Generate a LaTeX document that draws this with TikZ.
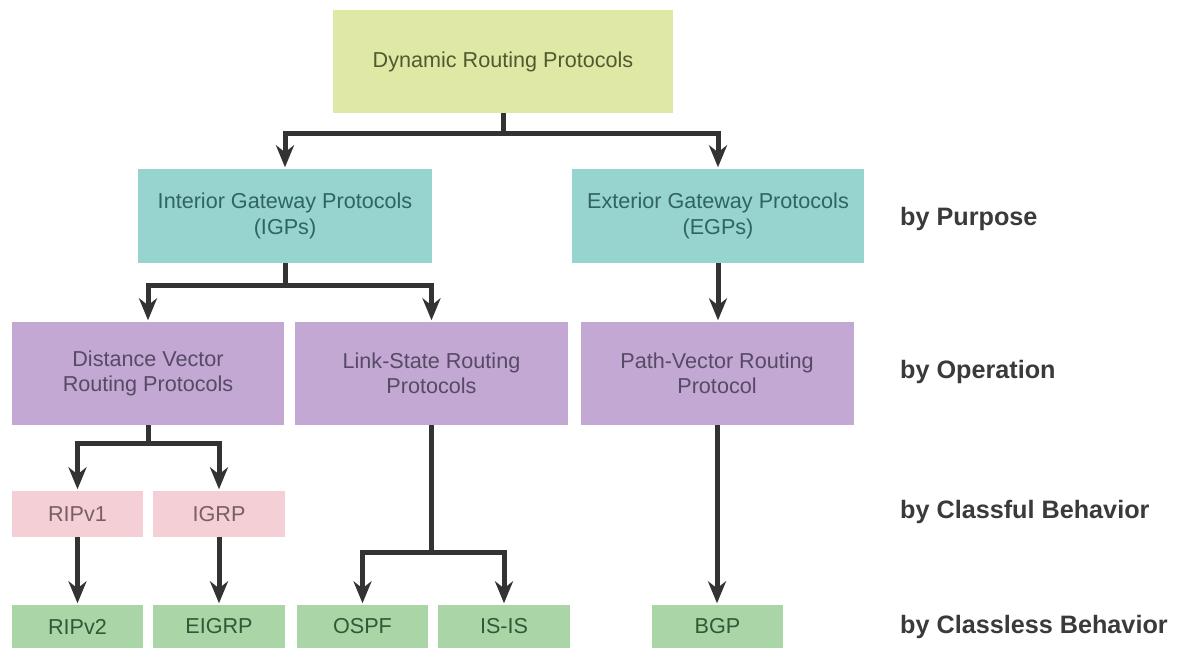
\documentclass[tikz,border=0pt]{standalone}
\usepackage{fontspec}
\setmainfont{Liberation Sans}
\usetikzlibrary{arrows.meta}
\definecolor{topfill}{HTML}{E0E8A6}
\definecolor{toptext}{HTML}{4F5B2F}
\definecolor{tealfill}{HTML}{97D3CF}
\definecolor{tealtext}{HTML}{2F6462}
\definecolor{purpfill}{HTML}{C2A8D3}
\definecolor{purptext}{HTML}{574A65}
\definecolor{pinkfill}{HTML}{F4D0D6}
\definecolor{pinktext}{HTML}{7A5E63}
\definecolor{greenfill}{HTML}{A9D5A7}
\definecolor{greentext}{HTML}{2E5A35}
\definecolor{arrowcol}{HTML}{333333}
\definecolor{labcol}{HTML}{3A3A3A}
\begin{document}
\begin{tikzpicture}[x=1pt,y=-1pt,
  box/.style={rectangle, inner sep=0pt, align=center, font=\fontsize{21.6}{25.5}\selectfont},
  topbox/.style={box, fill=topfill, text=toptext},
  tealbox/.style={box, fill=tealfill, text=tealtext},
  purpbox/.style={box, fill=purpfill, text=purptext},
  pinkbox/.style={box, fill=pinkfill, text=pinktext},
  greenbox/.style={box, fill=greenfill, text=greentext},
  conn/.style={draw=arrowcol, line width=5pt, -{Stealth[length=22pt,width=18pt,inset=7pt]}, shorten >=1.5pt},
  lab/.style={anchor=base west, inner sep=0pt, text=labcol, font=\fontsize{25.2}{30}\selectfont\bfseries}
]
\useasboundingbox (0,0) rectangle (1181,648);
% boxes
\node[topbox, minimum width=340pt, minimum height=103pt] (dyn) at (503,61.5) {Dynamic Routing Protocols};
\node[tealbox, minimum width=294pt, minimum height=94pt] (igp) at (285,216) {Interior Gateway Protocols\\(IGPs)};
\node[tealbox, minimum width=292pt, minimum height=94pt] (egp) at (718,216) {Exterior Gateway Protocols\\(EGPs)};
\node[purpbox, minimum width=272pt, minimum height=103pt] (dv) at (148,373.5) {Distance Vector\\Routing Protocols};
\node[purpbox, minimum width=273pt, minimum height=103pt] (ls) at (431.5,373.5) {Link-State Routing\\Protocols};
\node[purpbox, minimum width=273pt, minimum height=103pt] (pv) at (717,373.5) {Path-Vector Routing\\Protocol};
\node[pinkbox, minimum width=131pt, minimum height=46pt] (rip1) at (77.5,514) {RIPv1};
\node[pinkbox, minimum width=132pt, minimum height=46pt] (igrp) at (219,514) {IGRP};
\node[greenbox, minimum width=131pt, minimum height=43pt] (rip2) at (77.5,626.5) {RIPv2};
\node[greenbox, minimum width=132pt, minimum height=43pt] (eigrp) at (219,626.5) {EIGRP};
\node[greenbox, minimum width=131pt, minimum height=43pt] (ospf) at (362.5,626.5) {OSPF};
\node[greenbox, minimum width=132pt, minimum height=43pt] (isis) at (504,626.5) {IS-IS};
\node[greenbox, minimum width=131pt, minimum height=43pt] (bgp) at (717.5,626.5) {BGP};
% labels
\node[lab] (lpur) at (900,225) {by Purpose};
\node[lab] (lop) at (900,378) {by Operation};
\node[lab] (lcf) at (900,518) {by Classful Behavior};
\node[lab] (lcl) at (900,633) {by Classless Behavior};
% connectors
\draw[conn] (dyn.south) -- ++(0,20) -| (igp.north);
\draw[conn] (dyn.south) -- ++(0,20) -| (egp.north);
\draw[conn] (igp.south) -- ++(0,22) -| (dv.north);
\draw[conn] (igp.south) -- ++(0,22) -| (ls.north);
\draw[conn] (egp.south) -- (egp.south |- pv.north);
\draw[conn] (dv.south) -- ++(0,18) -| (rip1.north);
\draw[conn] (dv.south) -- ++(0,18) -| (igrp.north);
\draw[conn] (rip1.south) -- (rip2.north);
\draw[conn] (igrp.south) -- (eigrp.north);
\draw[conn] (ls.south) -- ++(0,127) -| (ospf.north);
\draw[conn] (ls.south) -- ++(0,127) -| (isis.north);
\draw[conn] (pv.south) -- (pv.south |- bgp.north);
\end{tikzpicture}
\end{document}
